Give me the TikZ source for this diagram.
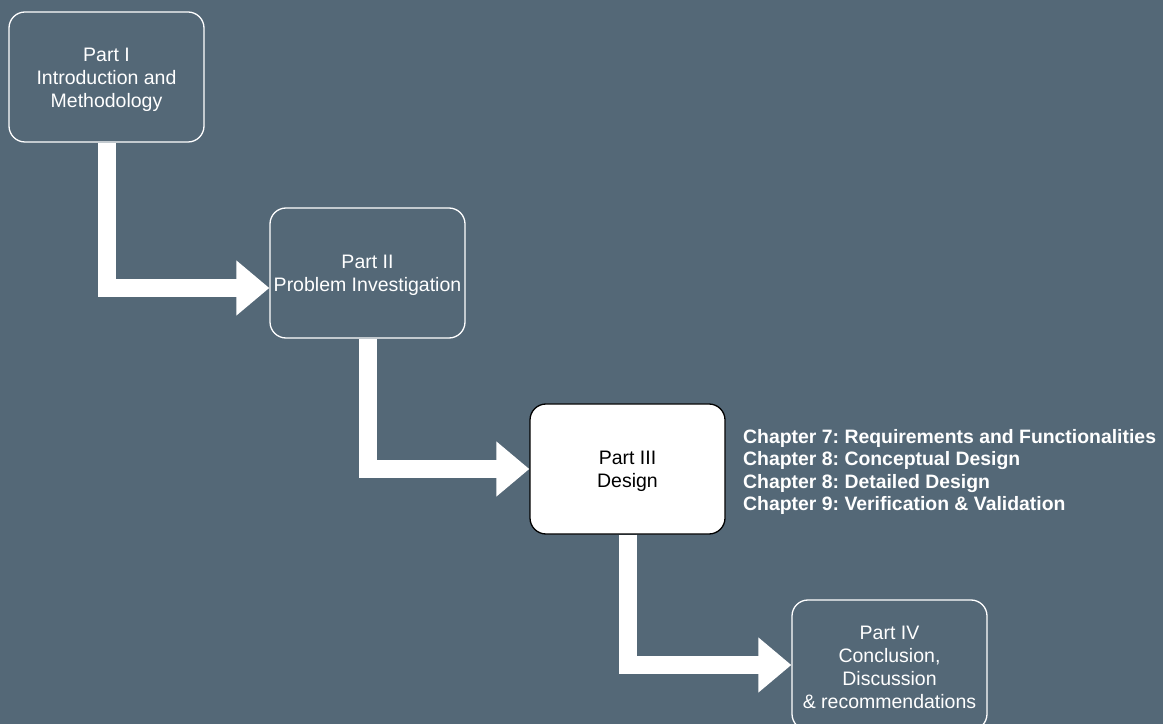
\documentclass[tikz,border=0pt]{standalone}
\usepackage{fontspec}
\setmainfont{Liberation Sans}
\usetikzlibrary{arrows.meta,calc}
\definecolor{slate}{HTML}{546877}
\frenchspacing
\begin{document}
\begin{tikzpicture}[x=1pt,y=1pt,
  part/.style={rounded corners=16pt, minimum width=195pt, minimum height=130pt,
    line width=1.3pt, inner sep=0pt},
  parttext/.style={align=center, inner sep=0pt, yshift=-2.5pt,
    font=\fontsize{19.5}{23}\selectfont},
  darkpart/.style={part, draw=white},
  lightpart/.style={part, draw=black, fill=white},
  flow/.style={draw=white, line width=18pt,
    -{Triangle[width=53pt,length=33pt]}}]
  % canvas
  \fill[slate] (0,0) rectangle (1163,724);
  \useasboundingbox (0,0) rectangle (1163,724);

  % the four parts
  \node[darkpart, label={[parttext, text=white]center:{Part I\\Introduction and\\Methodology}}]
    (p1) at (106.5,647) {};
  \node[darkpart, label={[parttext, text=white]center:{Part II\\Problem Investigation}}]
    (p2) at (367.5,451) {};
  \node[lightpart, label={[parttext, text=black]center:{Part III\\Design}}]
    (p3) at (627.5,255) {};
  \node[darkpart, label={[parttext, text=white]center:{Part IV\\Conclusion,\\Discussion\\\& recommendations}}]
    (p4) at (889.5,59) {};

  % chapters of part III
  \node[anchor=west, align=left, text=white, inner sep=0pt,
    font=\bfseries\fontsize{19.4}{22.5}\selectfont] (ch) at (743,252)
    {Chapter 7: Requirements and Functionalities\\
     Chapter 8: Conceptual Design\\
     Chapter 8: Detailed Design\\
     Chapter 9: Verification \& Validation};

  % flow between parts
  \draw[flow] (p1.south) |- ($(p2.west)+(0,-15)$);
  \draw[flow] (p2.south) |- (p3.west);
  \draw[flow] (p3.south) |- (p4.west);
\end{tikzpicture}
\end{document}
